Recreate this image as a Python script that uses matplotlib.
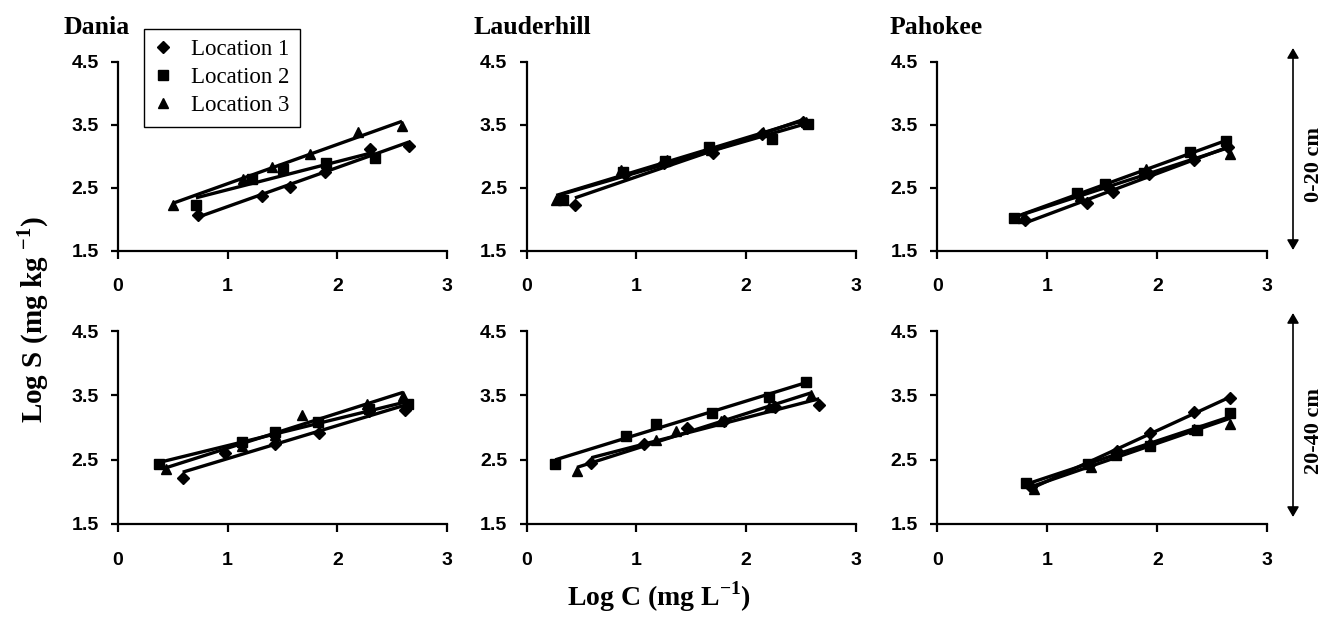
import numpy as np
import matplotlib
matplotlib.use("Agg")
import matplotlib.pyplot as plt
from matplotlib.lines import Line2D

# ---------------- data ----------------
sites = ["Dania", "Lauderhill", "Pahokee"]
depths = ["0-20 cm", "20-40 cm"]
series_names = ["Location 1", "Location 2", "Location 3"]
x_ticks = [0, 1, 2, 3]
y_ticks = [1.5, 2.5, 3.5, 4.5]

# top row (0-20 cm)
dania_top_x = [[0.73, 1.31, 1.57, 1.89, 2.30, 2.65],
               [0.71, 1.22, 1.50, 1.90, 2.34],
               [0.50, 1.14, 1.40, 1.75, 2.19, 2.59]]
dania_top_y = [[2.06, 2.36, 2.51, 2.75, 3.11, 3.17],
               [2.23, 2.64, 2.79, 2.89, 2.98],
               [2.23, 2.64, 2.83, 3.04, 3.39, 3.48]]

laud_top_x = [[0.44, 0.90, 1.25, 1.70, 2.15, 2.52],
              [0.33, 0.88, 1.26, 1.66, 2.24, 2.57],
              [0.27, 0.86, 1.28, 1.68, 2.16, 2.55]]
laud_top_y = [[2.22, 2.72, 2.90, 3.05, 3.36, 3.55],
              [2.30, 2.75, 2.92, 3.14, 3.28, 3.52],
              [2.30, 2.78, 2.94, 3.10, 3.39, 3.55]]

pah_top_x = [[0.80, 1.36, 1.60, 1.92, 2.33, 2.64],
             [0.70, 1.27, 1.52, 1.88, 2.30, 2.62],
             [0.78, 1.30, 1.56, 1.90, 2.32, 2.66]]
pah_top_y = [[1.98, 2.25, 2.43, 2.72, 2.94, 3.15],
             [2.02, 2.41, 2.56, 2.74, 3.07, 3.24],
             [2.02, 2.36, 2.55, 2.80, 3.00, 3.04]]

# bottom row (20-40 cm)
dania_bot_x = [[0.59, 0.98, 1.43, 1.83, 2.29, 2.62],
               [0.37, 1.13, 1.43, 1.82, 2.29, 2.64],
               [0.44, 1.13, 1.43, 1.68, 2.27, 2.60]]
dania_bot_y = [[2.21, 2.61, 2.75, 2.92, 3.26, 3.27],
               [2.43, 2.77, 2.93, 3.08, 3.28, 3.36],
               [2.35, 2.72, 2.88, 3.20, 3.36, 3.49]]

laud_bot_x = [[0.59, 1.07, 1.46, 1.80, 2.27, 2.67],
              [0.26, 0.91, 1.18, 1.69, 2.21, 2.55],
              [0.46, 1.18, 1.36, 1.77, 2.21, 2.59]]
laud_bot_y = [[2.45, 2.75, 3.00, 3.10, 3.32, 3.35],
              [2.44, 2.87, 3.06, 3.23, 3.47, 3.71],
              [2.32, 2.80, 2.94, 3.10, 3.32, 3.50]]

pah_bot_x = [[0.85, 1.38, 1.63, 1.93, 2.33, 2.66],
             [0.81, 1.37, 1.62, 1.93, 2.36, 2.66],
             [0.88, 1.40, 1.62, 1.93, 2.33, 2.66]]
pah_bot_y = [[2.08, 2.42, 2.64, 2.92, 3.24, 3.46],
             [2.14, 2.44, 2.57, 2.72, 2.96, 3.22],
             [2.04, 2.38, 2.60, 2.77, 2.98, 3.06]]

panels = [[(dania_top_x, dania_top_y), (laud_top_x, laud_top_y), (pah_top_x, pah_top_y)],
          [(dania_bot_x, dania_bot_y), (laud_bot_x, laud_bot_y), (pah_bot_x, pah_bot_y)]]

markers = ["D", "s", "^"]
msizes = [6.5, 6.5, 7.5]

# ---------------- layout ----------------
W, H = 1331, 617
plt.rcParams['mathtext.fontset'] = 'custom'
plt.rcParams['mathtext.rm'] = 'Liberation Serif'
plt.rcParams['mathtext.bf'] = 'Liberation Serif:bold'
fig = plt.figure(figsize=(W / 100, H / 100), dpi=100)
fig.patch.set_facecolor("white")

cols = [(118, 447), (526.7, 855.5), (937.3, 1267.3)]
rows = [(62, 250.5), (331, 524)]

tick_font = dict(family="Liberation Sans", weight="bold", size=14)

def add_ax(l, r, t, b):
    return fig.add_axes([l / W, 1 - b / H, (r - l) / W, (b - t) / H])

for ri, (t, b) in enumerate(rows):
    for ci, (l, r) in enumerate(cols):
        ax = add_ax(l, r, t, b)
        xs, ys = panels[ri][ci]
        for si in range(3):
            x = np.array(xs[si]); y = np.array(ys[si])
            k, c0 = np.polyfit(x, y, 1)
            xl = np.array([x.min(), x.max()])
            ax.plot(xl, k * xl + c0, color="black", lw=2.4, solid_capstyle="butt", zorder=2)
            ax.plot(x, y, linestyle="none", marker=markers[si], ms=msizes[si],
                    color="black", zorder=3, clip_on=False)
        ax.set_xlim(0, 3)
        ax.set_ylim(1.5, 4.5)
        ax.set_xticks(x_ticks)
        ax.set_yticks(y_ticks)
        ax.set_xticklabels([str(v) for v in x_ticks], fontdict=tick_font)
        ax.set_yticklabels([f"{v:.1f}" for v in y_ticks], fontdict=tick_font)
        for s in ["top", "right"]:
            ax.spines[s].set_visible(False)
        for s in ["left", "bottom"]:
            ax.spines[s].set_linewidth(1.6)
        ax.tick_params(axis="x", direction="out", length=6, width=1.6, pad=14)
        ax.tick_params(axis="y", direction="out", length=5, width=1.6, pad=9)
        ax.patch.set_alpha(0)

# site titles
title_font = dict(family="Liberation Serif", weight="bold", size=18.5)
for name, xpx in zip(sites, [64, 473, 890]):
    fig.text(xpx / W, 1 - 27 / H, name, ha="left", va="center", **title_font)

# axis labels
fig.text(33 / W, 1 - 320 / H, r"Log S (mg kg $^{\mathbf{-1}}$)", rotation=90,
         ha="center", va="center", family="Liberation Serif", weight="bold", size=21)
fig.text(659 / W, 1 - 597 / H, r"Log C (mg L$^{\mathbf{-1}}$)",
         ha="center", va="center", family="Liberation Serif", weight="bold", size=20)

# legend
handles = [Line2D([], [], linestyle="none", marker=m, ms=ms, color="black")
           for m, ms in zip(markers, msizes)]
leg = fig.legend(handles, series_names, loc="upper left",
                 bbox_to_anchor=(144 / W, 1 - 29 / H), bbox_transform=fig.transFigure,
                 borderaxespad=0,
                 frameon=True, fancybox=False, edgecolor="black", framealpha=1,
                 handlelength=0.8, handletextpad=0.8, borderpad=0.45, labelspacing=0.3,
                 prop=dict(family="Liberation Serif", size=16.5))
leg.get_frame().set_linewidth(1.0)

# depth arrows
for (y0, y1), lab in zip([(48, 250), (313, 517)], depths):
    fig.add_artist(matplotlib.patches.FancyArrowPatch(
        (1293 / W, 1 - y0 / H), (1293 / W, 1 - y1 / H), transform=fig.transFigure,
        arrowstyle="<|-|>,head_length=6,head_width=3.5", color="black", lw=1.2,
        shrinkA=0, shrinkB=0))
    fig.text(1314 / W, 1 - ((y0 + y1) / 2 + 16) / H, lab, rotation=90, ha="center", va="center",
             family="Liberation Serif", weight="bold", size=16)

fig.savefig("out.png", dpi=100, facecolor="white")
